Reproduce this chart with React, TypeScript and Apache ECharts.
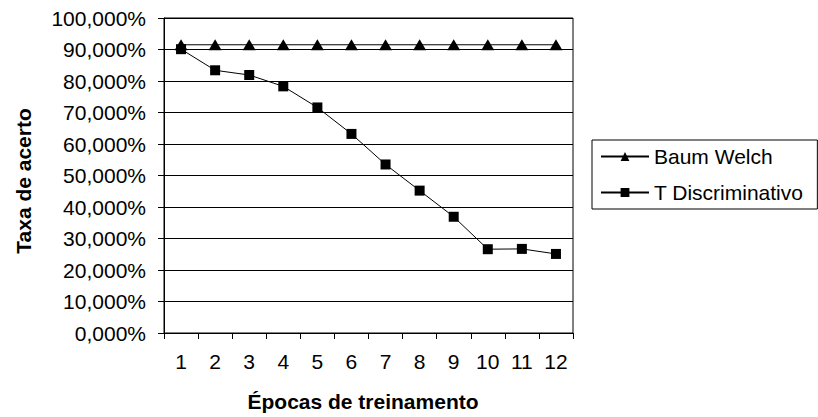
import React, { useEffect, useRef } from "react";
import * as echarts from "echarts";

const categories = ["1", "2", "3", "4", "5", "6", "7", "8", "9", "10", "11", "12"];
const baumWelch = [91.5, 91.5, 91.5, 91.5, 91.5, 91.5, 91.5, 91.5, 91.5, 91.5, 91.5, 91.5];
const tDiscriminativo = [90.1, 83.4, 81.9, 78.3, 71.6, 63.2, 53.5, 45.2, 36.9, 26.6, 26.7, 25.1];
const seriesNames = ["Baum Welch", "T Discriminativo"];
const xTitle = "Épocas de treinamento";
const yTitle = "Taxa de acerto";

const FONT = "'Liberation Sans', Arial, sans-serif";

export default function App() {
  const ref = useRef<HTMLDivElement>(null);

  useEffect(() => {
    if (!ref.current) return;
    const chart = echarts.init(ref.current, null, { renderer: "svg" });
    chart.setOption({
      animation: false,
      backgroundColor: "#fff",
      textStyle: { fontFamily: FONT },
      grid: {
        left: 164,
        right: 245,
        top: 18,
        bottom: 84,
        show: true,
        borderColor: "#000",
        borderWidth: 1,
      },
      xAxis: {
        type: "category",
        data: categories,
        boundaryGap: true,
        axisLine: { show: true, lineStyle: { color: "#000", width: 1 } },
        axisTick: { show: true, length: 6, lineStyle: { color: "#000" } },
        axisLabel: { color: "#000", fontSize: 21, margin: 18, fontFamily: FONT },
        splitLine: { show: false },
      },
      yAxis: {
        type: "value",
        min: 0,
        max: 100,
        interval: 10,
        axisLine: { show: true, lineStyle: { color: "#000", width: 1 } },
        axisTick: { show: true, length: 6, lineStyle: { color: "#000" } },
        axisLabel: {
          color: "#000",
          fontSize: 21,
          margin: 18,
          fontFamily: FONT,
          formatter: (v: number) => v.toFixed(3).replace(".", ",") + "%",
        },
        splitLine: { show: true, lineStyle: { color: "#000", width: 1 } },
      },
      legend: {
        orient: "vertical",
        left: 592,
        top: 140,
        data: seriesNames,
        itemWidth: 48,
        itemHeight: 11,
        itemGap: 15,
        padding: [6, 14, 6, 8],
        borderColor: "#000",
        borderWidth: 1,
        textStyle: { fontSize: 21, color: "#000", lineHeight: 21, fontFamily: FONT },
      },
      graphic: [
        {
          type: "text",
          x: 23,
          y: 181,
          rotation: Math.PI / 2,
          style: {
            text: yTitle,
            fontSize: 21,
            fontWeight: "bold",
            fontFamily: FONT,
            fill: "#000",
            textAlign: "center",
            textVerticalAlign: "middle",
          },
        },
        {
          type: "text",
          x: 363,
          y: 401,
          style: {
            text: xTitle,
            fontSize: 21,
            fontWeight: "bold",
            fontFamily: FONT,
            fill: "#000",
            textAlign: "center",
            textVerticalAlign: "middle",
          },
        },
      ],
      series: [
        {
          name: seriesNames[0],
          type: "line",
          data: baumWelch,
          symbol: "triangle",
          symbolSize: [13, 11],
          showAllSymbol: true,
          itemStyle: { color: "#000" },
          lineStyle: { color: "#000", width: 1 },
        },
        {
          name: seriesNames[1],
          type: "line",
          data: tDiscriminativo,
          symbol: "rect",
          symbolSize: 10,
          showAllSymbol: true,
          itemStyle: { color: "#000" },
          lineStyle: { color: "#000", width: 1 },
        },
      ],
    });
    return () => chart.dispose();
  }, []);

  return (
    <div
      ref={ref}
      style={{ position: "fixed", left: 0, top: 0, width: 818, height: 417 }}
    />
  );
}
